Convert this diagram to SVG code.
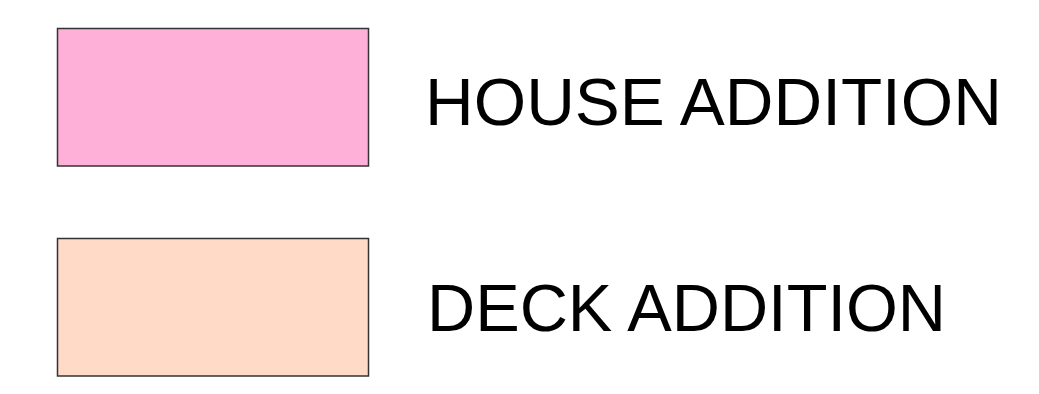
<svg xmlns="http://www.w3.org/2000/svg" width="1039" height="394" viewBox="0 0 1039 394">
<style>
.box{stroke:#333;stroke-width:1.5}
.lbl{font-family:"Liberation Sans",Arial,sans-serif;font-size:66px;fill:#000}
</style>
<rect width="1039" height="394" fill="#fff"/>
<g id="house-addition">
<rect class="box" x="57.5" y="28.5" width="311" height="137.5" fill="#FFB0D8"/>
<text class="lbl" x="425" y="125" textLength="577" lengthAdjust="spacingAndGlyphs">HOUSE ADDITION</text>
</g>
<g id="deck-addition">
<rect class="box" x="57.5" y="238.5" width="311" height="137.5" fill="#FFDAC6"/>
<text class="lbl" x="427" y="331" textLength="519" lengthAdjust="spacingAndGlyphs">DECK ADDITION</text>
</g>
<g id="connectors"/>
</svg>
